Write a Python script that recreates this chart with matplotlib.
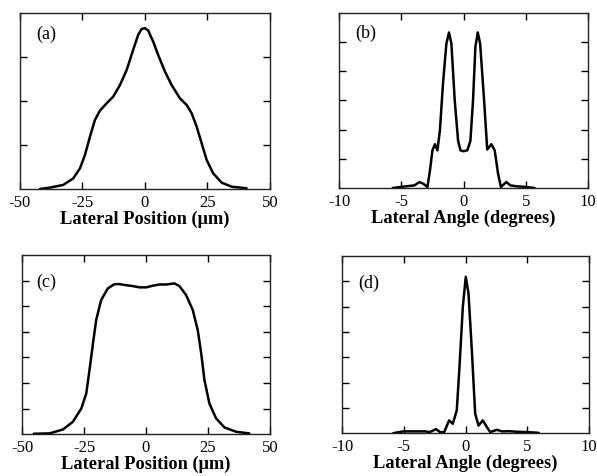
import matplotlib
matplotlib.use("Agg")
import matplotlib.pyplot as plt

# Panel (a): near-field lateral position profile
a_x = [-42, -38, -32.7, -28.7, -26, -24, -22, -20, -18, -15.3, -12.7, -10, -7.3, -4.7, -2.7, -1.3, 0,
       1.3, 3.3, 5.3, 8, 10.7, 14, 16.7, 18.7, 20.7, 22.7, 24.7, 27.3, 30.7, 34.7, 40.7]
a_y = [0, 0.008, 0.023, 0.06, 0.117, 0.193, 0.297, 0.392, 0.445, 0.487, 0.524, 0.59, 0.676, 0.79, 0.875, 0.909, 0.913,
       0.90, 0.837, 0.761, 0.667, 0.59, 0.515, 0.477, 0.43, 0.354, 0.26, 0.165, 0.089, 0.036, 0.013, 0.004]

# Panel (b): far-field lateral angle profile
b_x = [-5.7, -4.6, -3.95, -3.55, -3.25, -2.9, -2.7, -2.5, -2.3, -2.1, -1.9, -1.65, -1.38, -1.17,
       -0.98, -0.71, -0.44, -0.25, 0, 0.3, 0.55, 0.76, 0.95, 1.14, 1.33, 1.65, 1.9, 2.23, 2.5, 2.77,
       3.0, 3.44, 3.76, 4.24, 5.0, 5.7]
b_y = [0, 0.01, 0.015, 0.034, 0.025, 0.006, 0.10, 0.215, 0.25, 0.215, 0.33, 0.6, 0.825, 0.888,
       0.825, 0.50, 0.27, 0.215, 0.21, 0.215, 0.27, 0.50, 0.806, 0.888, 0.825, 0.50, 0.22, 0.25, 0.215, 0.082,
       0.006, 0.034, 0.015, 0.01, 0.006, 0]

# Panel (c): near-field lateral position profile (flat top)
c_x = [-45.3, -38.9, -33.5, -29.5, -26.1, -24.1, -22.8, -21.4, -20.1, -18.1, -15.4, -12.7, -10.7, -8,
       -5.3, -2.6, 0.1, 2.7, 5.4, 8.1, 11.5, 13.5, 16.2, 18.9, 20.9, 22.3, 23.6, 25.6, 28.3, 31.7, 36.4, 41.7]
c_y = [0.002, 0.004, 0.026, 0.069, 0.143, 0.227, 0.357, 0.506, 0.637, 0.749, 0.814, 0.838, 0.838, 0.832,
       0.827, 0.82, 0.82, 0.829, 0.836, 0.836, 0.842, 0.827, 0.777, 0.693, 0.581, 0.451, 0.302, 0.171, 0.088,
       0.037, 0.013, 0.004]

# Panel (d): far-field lateral angle profile (single lobe)
d_x = [-5.86, -5.05, -4.24, -3.3, -2.9, -2.4, -2.07, -1.75, -1.34, -1.04, -0.72, -0.5, -0.23, 0.01,
       0.23, 0.5, 0.77, 1.04, 1.39, 1.72, 1.99, 2.53, 2.94, 3.48, 4.15, 4.97, 5.9]
d_y = [0, 0.01, 0.01, 0.01, 0.006, 0.023, 0.006, 0.004, 0.072, 0.053, 0.128, 0.374, 0.713, 0.883,
       0.789, 0.468, 0.11, 0.043, 0.072, 0.034, 0.006, 0.019, 0.01, 0.011, 0.008, 0.006, 0.002]

pos_ticks = [-50, -25, 0, 25, 50]
ang_ticks = [-10, -5, 0, 5, 10]
pos_label = "Lateral Position (\u03bcm)"
ang_label = "Lateral Angle (degrees)"

plt.rcParams['font.family'] = ['Liberation Serif', 'DejaVu Serif']
plt.rcParams['axes.unicode_minus'] = False

fig = plt.figure(figsize=(5.97, 4.76), dpi=100)

panels = [
    ([0.0335, 0.603, 0.4185, 0.370], a_x, a_y, pos_ticks, pos_label, "(a)", 4, (0.064, 0.925)),
    ([0.568, 0.605, 0.417, 0.368], b_x, b_y, ang_ticks, ang_label, "(b)", 6, (0.064, 0.935)),
    ([0.037, 0.088, 0.415, 0.376], c_x, c_y, pos_ticks, pos_label, "(c)", 7, (0.056, 0.895)),
    ([0.573, 0.090, 0.414, 0.372], d_x, d_y, ang_ticks, ang_label, "(d)", 7, (0.065, 0.895)),
]

for rect, xs, ys, xt, xl, tag, ndiv, tpos in panels:
    ax = fig.add_axes(rect)
    ax.plot(xs, ys, color='black', lw=1.8, solid_joinstyle='round', solid_capstyle='round')
    ax.set_xlim(xt[0], xt[-1])
    ax.set_ylim(0, 1)
    ax.set_xticks(xt)
    ax.set_xticklabels([str(t) for t in xt])
    ax.set_yticks([i / ndiv for i in range(1, ndiv)])
    ax.set_yticklabels([])
    ax.tick_params(direction='in', length=5, width=1, top=True, right=True,
                   labelsize=12, pad=4, colors='black')
    for s in ax.spines.values():
        s.set_linewidth(1.0)
        s.set_color('#222222')
    ax.set_xlabel(xl, fontsize=13.2, fontweight='bold', labelpad=0)
    ax.text(tpos[0], tpos[1], tag, transform=ax.transAxes, fontsize=13, va='top', ha='left')

fig.savefig("out.png", dpi=100)
